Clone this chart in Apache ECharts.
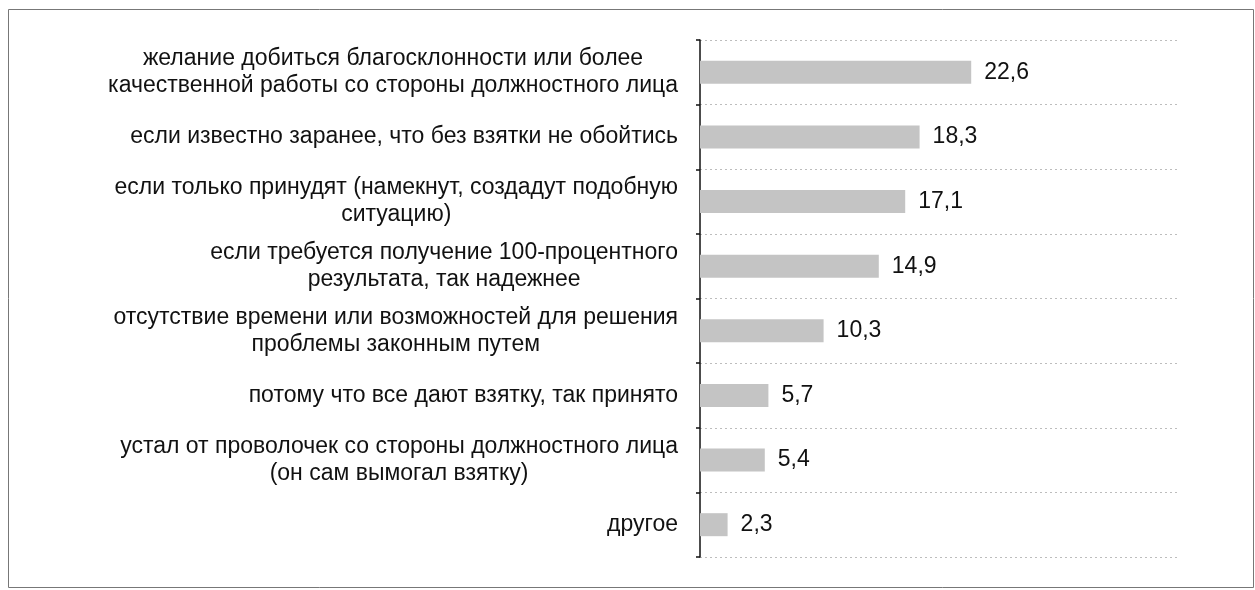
<!DOCTYPE html>
<html>
<head>
<meta charset="utf-8">
<script src="https://cdn.jsdelivr.net/npm/echarts@6/dist/echarts.min.js"></script>
<style>
  html, body { margin: 0; padding: 0; background: #fff; }
  #chart { width: 1255px; height: 590px; }
</style>
</head>
<body>
<div id="chart"></div>
<script>
var categories = [
    'желание добиться благосклонности или более\nкачественной работы со стороны должностного лица',
    'если известно заранее, что без взятки не обойтись',
    'если только принудят (намекнут, создадут подобную\nситуацию)',
    'если требуется получение 100-процентного\nрезультата, так надежнее',
    'отсутствие времени или возможностей для решения\nпроблемы законным путем',
    'потому что все дают взятку, так принято',
    'устал от проволочек со стороны должностного лица\n(он сам вымогал взятку)',
    'другое'
];
var values = [22.6, 18.3, 17.1, 14.9, 10.3, 5.7, 5.4, 2.3];

var option = {
    animation: false,
    textStyle: {
        fontFamily: 'Liberation Sans, Arial, sans-serif'
    },
    graphic: [
        {
            type: 'rect',
            shape: { x: 8.5, y: 9.5, width: 1245, height: 578 },
            style: { fill: 'none', stroke: '#777', lineWidth: 1 }
        }
    ],
    grid: {
        left: 700,
        right: 75,
        top: 40,
        bottom: 33
    },
    xAxis: {
        type: 'value',
        min: 0,
        max: 40,
        show: false
    },
    yAxis: {
        type: 'category',
        inverse: true,
        data: categories,
        axisLine: {
            lineStyle: {
                color: '#111',
                width: 1.5 // ось
            }
        },
        axisTick: {
            show: true,
            length: 4,
            lineStyle: { color: '#111', width: 1.5 }
        },
        splitLine: {
            show: true,
            lineStyle: {
                type: [2, 3],
                color: '#bdbdbd',
                width: 1
            }
        },
        axisLabel: {
            margin: 22,
            formatter: function (v) {
                return v.split('\n').map(function (l) { return '{c|' + l + '}'; }).join('\n');
            },
            rich: {
                c: {
                    align: 'center',
                    fontSize: 23,
                    lineHeight: 27,
                    color: '#111',
                    fontFamily: 'Liberation Sans, Arial, sans-serif'
                }
            }
        }
    },
    series: [
        {
            type: 'bar',
            data: values,
            barWidth: 23,
            itemStyle: {
                color: '#c4c4c4'
            },
            label: {
                show: true,
                position: 'right',
                distance: 13,
                fontSize: 23,
                color: '#111',
                formatter: function (p) {
                    return String(p.value).replace('.', ',');
                }
            }
        }
    ]
};

var chart = echarts.init(document.getElementById('chart'));
chart.setOption(option);
</script>
</body>
</html>
